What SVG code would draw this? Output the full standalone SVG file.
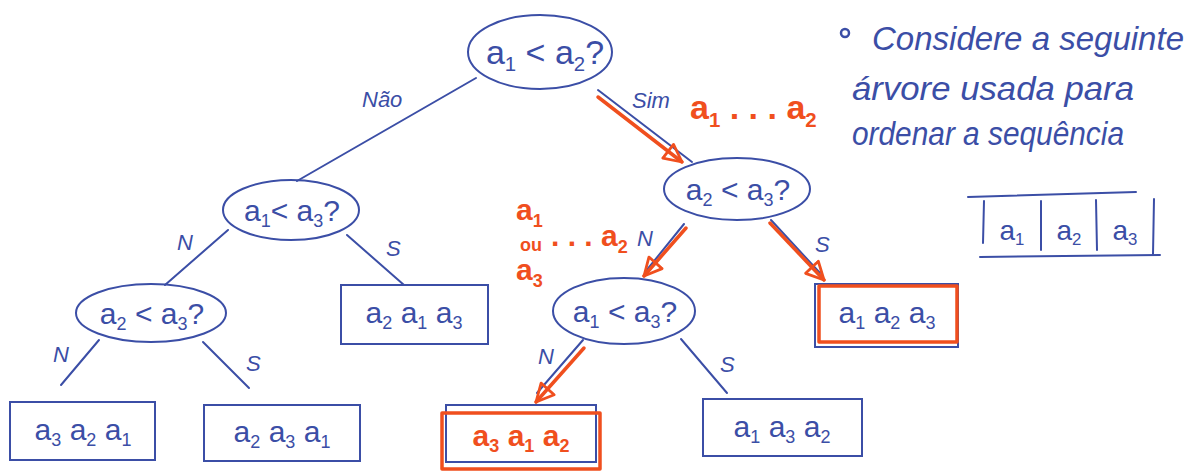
<svg xmlns="http://www.w3.org/2000/svg" width="1195" height="471" viewBox="0 0 1195 471">
<style>
.b{fill:none;stroke:#3b4ea6;stroke-width:2;stroke-linecap:round}
.r{fill:none;stroke:#f04f1e;stroke-width:3.5;stroke-linecap:round;stroke-linejoin:round}
.t{font-family:"Liberation Sans",sans-serif;fill:#3b4ea6;text-anchor:middle}
.lb{font-family:"Liberation Sans",sans-serif;fill:#3b4ea6;font-size:22px;font-style:italic}
.rt{font-family:"Liberation Sans",sans-serif;fill:#f04f1e;font-weight:bold}
.p{font-family:"Liberation Sans",sans-serif;fill:#3b4ea6;font-size:33px;font-style:italic}
.s{font-size:0.6em}
</style>
<defs>
<marker id="ah" viewBox="0 0 12 12" refX="11" refY="6" markerWidth="6" markerHeight="6" orient="auto" markerUnits="strokeWidth">
<path d="M1,1 L11,6 L1,11 Z" fill="none" stroke="#f04f1e" stroke-width="1.6" stroke-linejoin="round"/>
</marker>
</defs>
<rect width="1195" height="471" fill="#ffffff"/>

<g id="connectors">
<line class="b" x1="476" y1="78" x2="297" y2="181"/>
<line class="b" x1="598" y1="90" x2="692" y2="162"/>
<line class="b" x1="228" y1="230" x2="165" y2="285"/>
<line class="b" x1="347" y1="235" x2="404" y2="285"/>
<line class="b" x1="99" y1="340" x2="61" y2="385"/>
<line class="b" x1="203" y1="342" x2="249" y2="388"/>
<line class="b" x1="684" y1="224" x2="646" y2="271"/>
<line class="b" x1="771" y1="220" x2="820" y2="273"/>
<line class="b" x1="583" y1="340" x2="537" y2="393"/>
<line class="b" x1="681" y1="339" x2="727" y2="393"/>
<line class="r" x1="598" y1="97" x2="682" y2="162" marker-end="url(#ah)"/>
<line class="r" x1="686" y1="228" x2="644" y2="276" marker-end="url(#ah)"/>
<line class="r" x1="770" y1="223" x2="824" y2="280" marker-end="url(#ah)"/>
<line class="r" x1="584" y1="348" x2="536" y2="402" marker-end="url(#ah)"/>
</g>

<g id="labels">
<text class="lb" x="362" y="107">Não</text>
<text class="lb" x="632" y="108">Sim</text>
<text class="lb" x="177" y="250">N</text>
<text class="lb" x="386" y="256">S</text>
<text class="lb" x="53" y="362">N</text>
<text class="lb" x="246" y="371">S</text>
<text class="lb" x="637" y="246">N</text>
<text class="lb" x="815" y="252">S</text>
<text class="lb" x="538" y="364">N</text>
<text class="lb" x="720" y="372">S</text>
</g>

<g id="red-notes">
<text class="rt" x="690" y="119" font-size="34">a<tspan class="s" dy="8">1</tspan><tspan dy="-8"> . . .  a</tspan><tspan class="s" dy="8">2</tspan></text>
<text class="rt" x="516" y="220" font-size="30">a<tspan class="s" dy="7">1</tspan></text>
<text class="rt" x="520" y="251" font-size="18">ou</text>
<text class="rt" x="551" y="246" font-size="30">. . . a<tspan class="s" dy="7">2</tspan></text>
<text class="rt" x="516" y="280" font-size="30">a<tspan class="s" dy="7">3</tspan></text>
</g>

<g id="n-root">
<ellipse class="b" cx="540" cy="52" rx="72" ry="37"/>
<text class="t" x="545" y="64" font-size="34">a<tspan class="s" dy="7">1</tspan><tspan dy="-7"> &lt; a</tspan><tspan class="s" dy="7">2</tspan><tspan dy="-7">?</tspan></text>
</g>
<g id="n-l1">
<ellipse class="b" cx="291" cy="210" rx="68" ry="30"/>
<text class="t" x="292" y="221" font-size="30">a<tspan class="s" dy="6">1</tspan><tspan dy="-6">&lt; a</tspan><tspan class="s" dy="6">3</tspan><tspan dy="-6">?</tspan></text>
</g>
<g id="n-l2">
<ellipse class="b" cx="151" cy="313" rx="75" ry="29"/>
<text class="t" x="152" y="324" font-size="30">a<tspan class="s" dy="6">2</tspan><tspan dy="-6"> &lt; a</tspan><tspan class="s" dy="6">3</tspan><tspan dy="-6">?</tspan></text>
</g>
<g id="n-r1">
<ellipse class="b" cx="737" cy="189" rx="73" ry="31"/>
<text class="t" x="738" y="200" font-size="30">a<tspan class="s" dy="6">2</tspan><tspan dy="-6"> &lt; a</tspan><tspan class="s" dy="6">3</tspan><tspan dy="-6">?</tspan></text>
</g>
<g id="n-r2">
<ellipse class="b" cx="624" cy="311" rx="71" ry="33"/>
<text class="t" x="625" y="322" font-size="30">a<tspan class="s" dy="6">1</tspan><tspan dy="-6"> &lt; a</tspan><tspan class="s" dy="6">3</tspan><tspan dy="-6">?</tspan></text>
</g>

<g id="b-321">
<rect class="b" x="10" y="402" width="145" height="58"/>
<text class="t" x="83" y="440" font-size="30">a<tspan class="s" dy="6">3</tspan><tspan dy="-6"> a</tspan><tspan class="s" dy="6">2</tspan><tspan dy="-6"> a</tspan><tspan class="s" dy="6">1</tspan></text>
</g>
<g id="b-231">
<rect class="b" x="204" y="405" width="156" height="56"/>
<text class="t" x="282" y="442" font-size="30">a<tspan class="s" dy="6">2</tspan><tspan dy="-6">  a</tspan><tspan class="s" dy="6">3</tspan><tspan dy="-6">  a</tspan><tspan class="s" dy="6">1</tspan></text>
</g>
<g id="b-213">
<rect class="b" x="341" y="285" width="147" height="59"/>
<text class="t" x="414" y="323" font-size="30">a<tspan class="s" dy="6">2</tspan><tspan dy="-6">  a</tspan><tspan class="s" dy="6">1</tspan><tspan dy="-6">  a</tspan><tspan class="s" dy="6">3</tspan></text>
</g>
<g id="b-312">
<rect class="b" x="446" y="405" width="150" height="57"/>
<rect class="r" x="442" y="413" width="158" height="56"/>
<text class="rt" x="521" y="446" font-size="30" text-anchor="middle">a<tspan class="s" dy="6">3</tspan><tspan dy="-6">  a</tspan><tspan class="s" dy="6">1</tspan><tspan dy="-6">  a</tspan><tspan class="s" dy="6">2</tspan></text>
</g>
<g id="b-132">
<rect class="b" x="703" y="399" width="159" height="57"/>
<text class="t" x="782" y="437" font-size="30">a<tspan class="s" dy="6">1</tspan><tspan dy="-6">  a</tspan><tspan class="s" dy="6">3</tspan><tspan dy="-6">  a</tspan><tspan class="s" dy="6">2</tspan></text>
</g>
<g id="b-123">
<rect class="b" x="815" y="284" width="143" height="63"/>
<rect class="r" x="819" y="286" width="138" height="56"/>
<text class="t" x="887" y="323" font-size="30">a<tspan class="s" dy="6">1</tspan><tspan dy="-6">  a</tspan><tspan class="s" dy="6">2</tspan><tspan dy="-6">  a</tspan><tspan class="s" dy="6">3</tspan></text>
</g>

<g id="note">
<circle cx="845" cy="33" r="4" fill="none" stroke="#3b4ea6" stroke-width="2.5"/>
<text class="p" x="872" y="50" textLength="312" lengthAdjust="spacingAndGlyphs">Considere a seguinte</text>
<text class="p" x="852" y="100" textLength="282" lengthAdjust="spacingAndGlyphs">árvore usada para</text>
<text class="p" x="852" y="145" textLength="272" lengthAdjust="spacingAndGlyphs">ordenar a sequência</text>
</g>

<g id="array">
<line class="b" x1="968" y1="197" x2="1136" y2="192"/>
<line class="b" x1="980" y1="257" x2="1160" y2="255"/>
<line class="b" x1="984" y1="201" x2="983" y2="243"/>
<line class="b" x1="1041" y1="201" x2="1041" y2="250"/>
<line class="b" x1="1096" y1="200" x2="1097" y2="250"/>
<line class="b" x1="1154" y1="199" x2="1153" y2="254"/>
<text class="t" x="1012" y="240" font-size="28">a<tspan class="s" dy="5">1</tspan></text>
<text class="t" x="1069" y="240" font-size="28">a<tspan class="s" dy="5">2</tspan></text>
<text class="t" x="1125" y="240" font-size="28">a<tspan class="s" dy="5">3</tspan></text>
</g>
</svg>
